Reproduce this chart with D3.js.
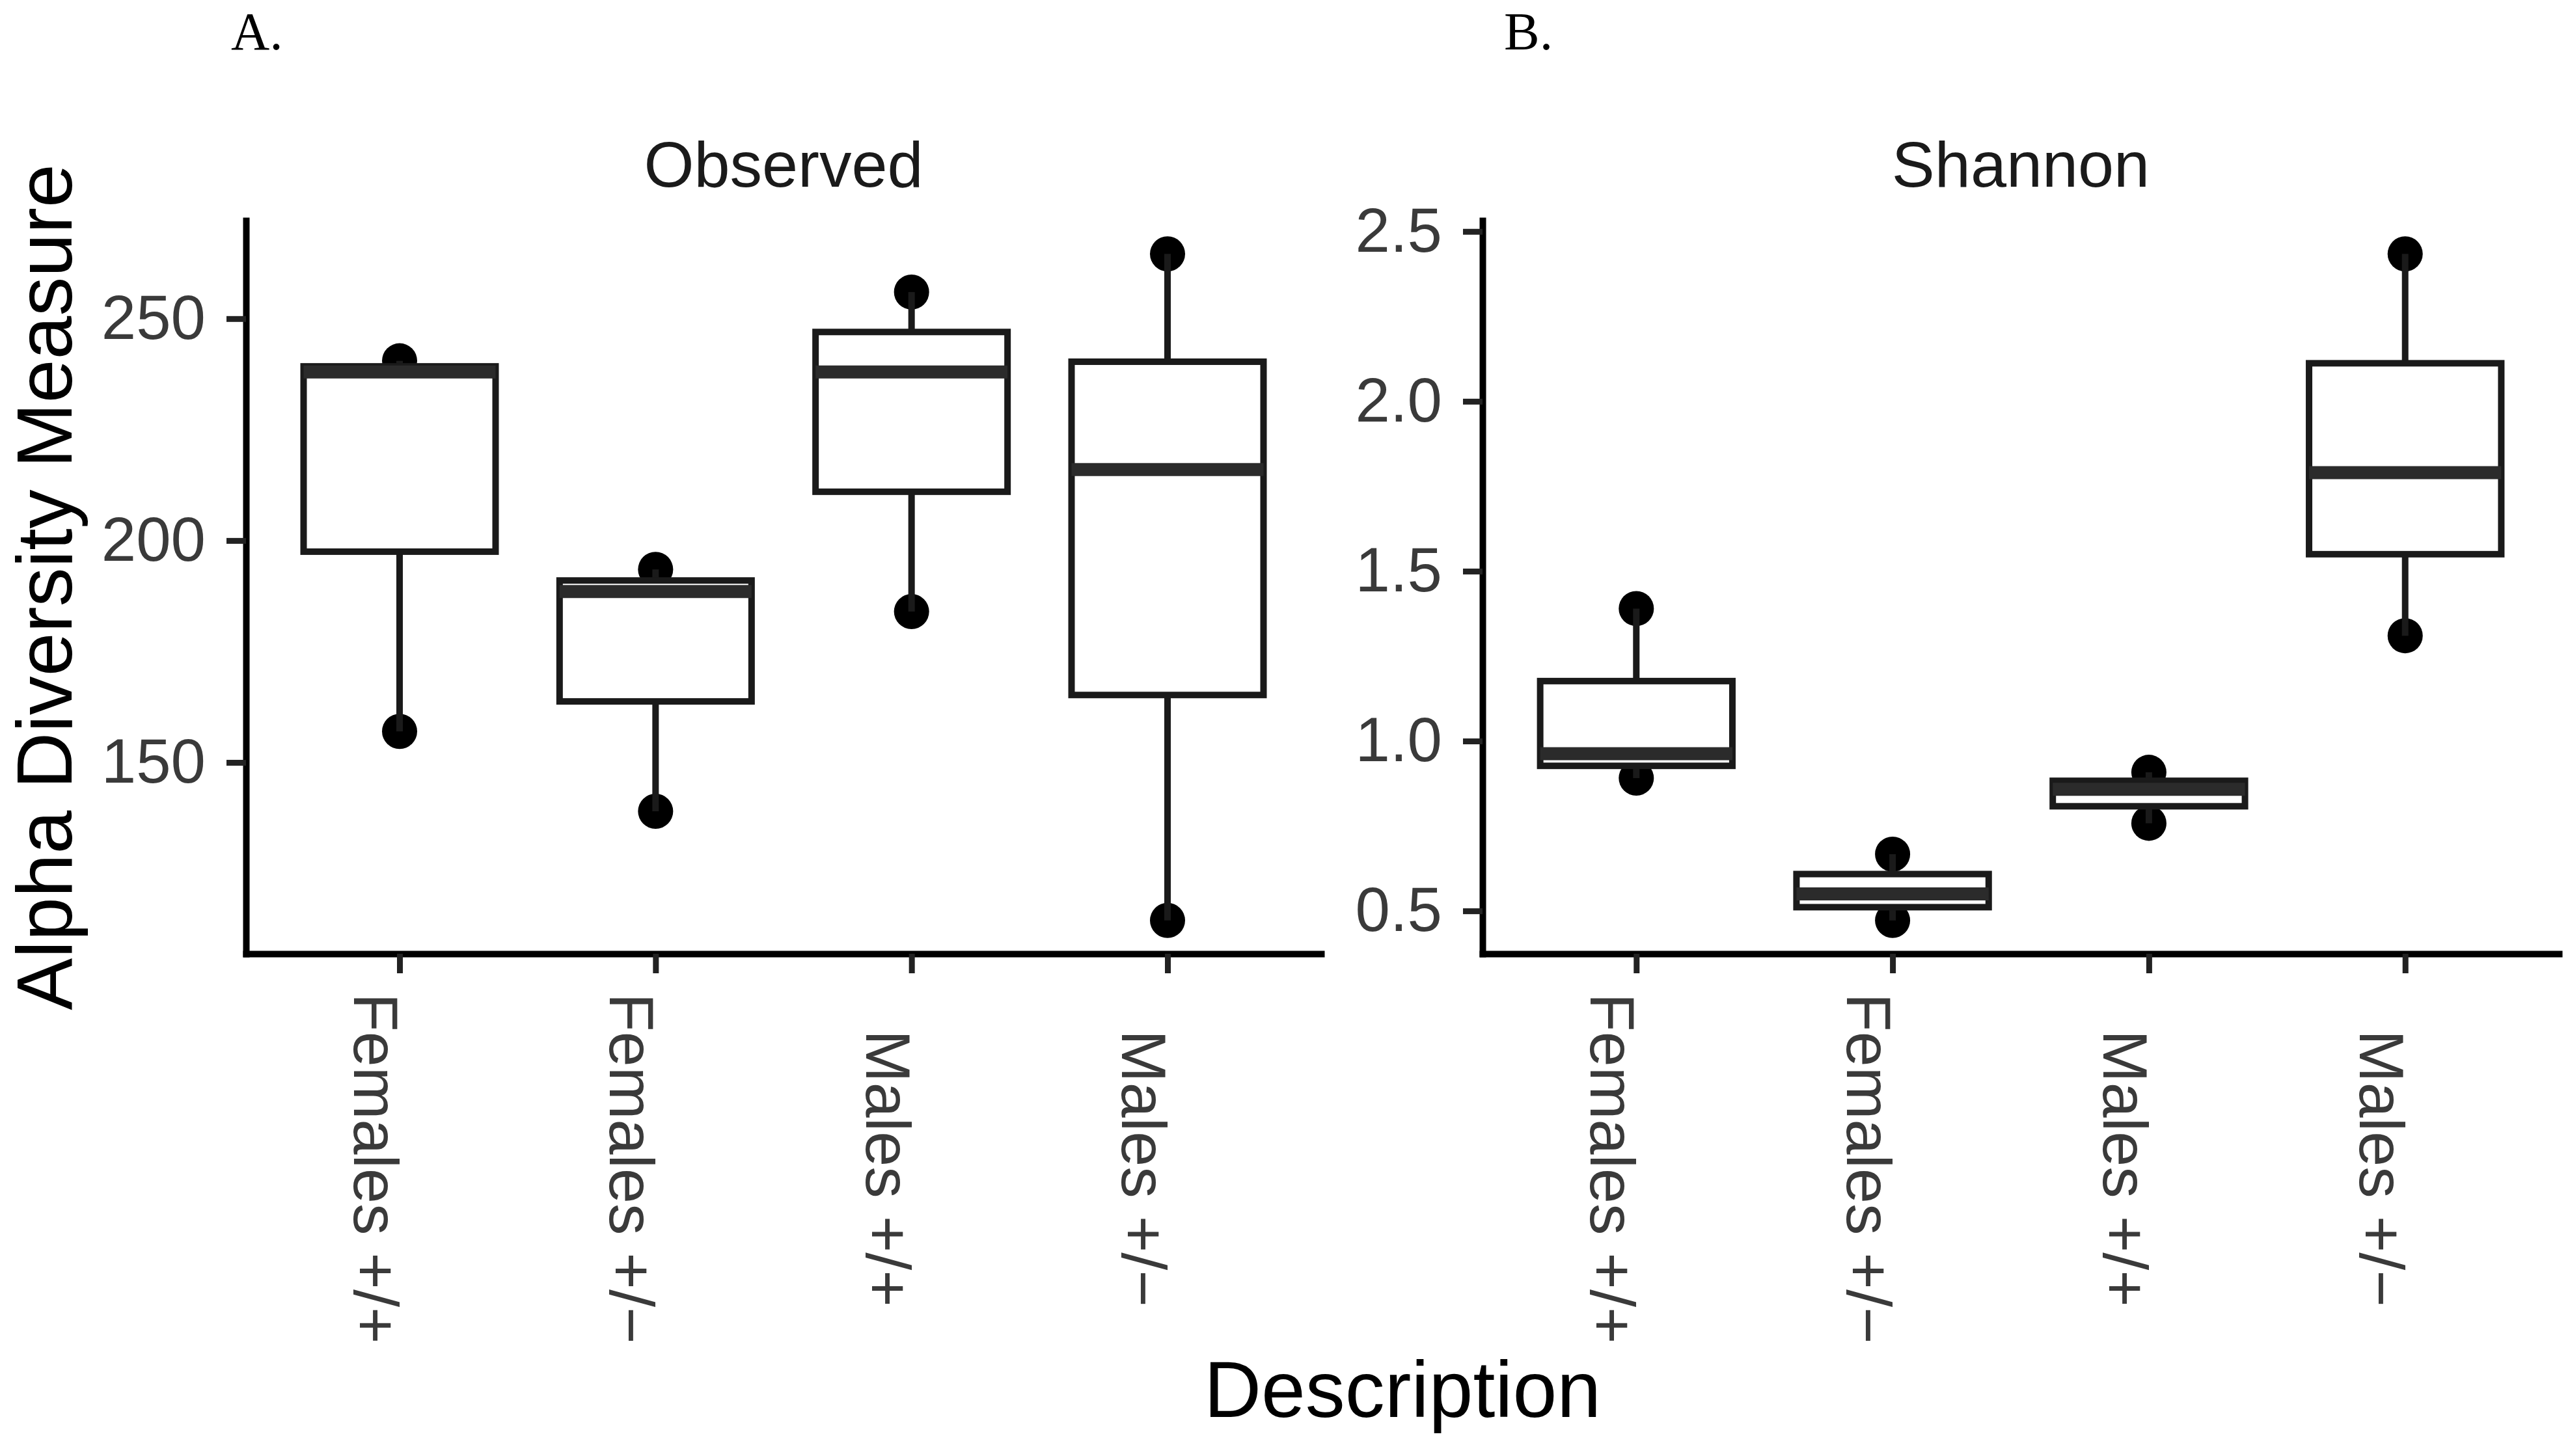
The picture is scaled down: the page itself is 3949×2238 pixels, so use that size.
<!DOCTYPE html>
<html><head><meta charset="utf-8">
<script src="https://cdn.jsdelivr.net/npm/d3@7"></script>
<style>html,body{margin:0;padding:0;background:#fff;} svg{display:block;}</style>
</head><body>
<script>
// ---- data ----
const categories = ["Females +/+", "Females +/\u2212", "Males +/+", "Males +/\u2212"];
const observedValues = [[157, 238, 240.5], [139, 188.5, 193.5], [184, 238, 256], [114.4, 216, 264.6]];
const shannonValues = [[0.891, 0.963, 1.39], [0.472, 0.55, 0.667], [0.758, 0.858, 0.908], [1.31, 1.79, 2.434]];
const observedTicks = [150, 200, 250];
const shannonTicks = [0.5, 1.0, 1.5, 2.0, 2.5];
const panelTitles = ["Observed", "Shannon"];
const panelLetters = ["A.", "B."];
const yTitle = "Alpha Diversity Measure";
const xTitle = "Description";

// ---- layout ----
const W = 3949, H = 2238;
const font = "'Liberation Sans', Arial, Helvetica, sans-serif";
const serif = "'Liberation Serif', 'Times New Roman', serif";
const plotTop = 339, plotBottom = 1466;

const svg = d3.select("body").append("svg")
  .attr("width", W).attr("height", H).attr("viewBox", `0 0 ${W} ${H}`);
svg.append("rect").attr("width", W).attr("height", H).attr("fill", "#fff");

const panels = [
  {x0: 378, x1: 2030, values: observedValues, ticks: observedTicks, fmt: d3.format("d"),
   title: panelTitles[0], letter: panelLetters[0], letterX: 355},
  {x0: 2278, x1: 3932, values: shannonValues, ticks: shannonTicks, fmt: d3.format(".1f"),
   title: panelTitles[1], letter: panelLetters[1], letterX: 2311}
];

panels.forEach(p => {
  const all = p.values.flat();
  const [mn, mx] = d3.extent(all);
  const pad = (mx - mn) * 0.05;
  const y = d3.scaleLinear().domain([mn - pad, mx + pad]).range([plotBottom, plotTop]);
  const x = d3.scalePoint().domain(categories).range([p.x0, p.x1]).padding(0.6);
  const bw = x.step() * 0.75;
  const g = svg.append("g");

  const stats = categories.map((c, i) => {
    const v = p.values[i].slice().sort(d3.ascending);
    const q1 = d3.quantile(v, 0.25), med = d3.quantile(v, 0.5), q3 = d3.quantile(v, 0.75);
    const iqr = q3 - q1;
    const lo = d3.min(v.filter(d => d >= q1 - 1.5 * iqr));
    const hi = d3.max(v.filter(d => d <= q3 + 1.5 * iqr));
    return {c, v, q1, med, q3, lo, hi};
  });

  // points (drawn under boxes)
  stats.forEach(s => {
    g.selectAll(null).data(s.v).enter().append("circle")
      .attr("cx", x(s.c)).attr("cy", d => y(d)).attr("r", 27).attr("fill", "#000");
  });

  // whiskers
  stats.forEach(s => {
    g.append("line").attr("x1", x(s.c)).attr("x2", x(s.c)).attr("y1", y(s.q3)).attr("y2", y(s.hi))
      .attr("stroke", "#1a1a1a").attr("stroke-width", 10);
    g.append("line").attr("x1", x(s.c)).attr("x2", x(s.c)).attr("y1", y(s.q1)).attr("y2", y(s.lo))
      .attr("stroke", "#1a1a1a").attr("stroke-width", 10);
  });
  // boxes
  stats.forEach(s => {
    g.append("rect").attr("x", x(s.c) - bw / 2).attr("width", bw)
      .attr("y", y(s.q3)).attr("height", y(s.q1) - y(s.q3))
      .attr("fill", "#fff").attr("stroke", "#1a1a1a").attr("stroke-width", 10);
    g.append("line").attr("x1", x(s.c) - bw / 2).attr("x2", x(s.c) + bw / 2)
      .attr("y1", y(s.med)).attr("y2", y(s.med))
      .attr("stroke", "#2b2b2b").attr("stroke-width", 20);
  });

  // y axis
  const ya = g.append("g").attr("transform", `translate(${p.x0},0)`)
    .call(d3.axisLeft(y).tickValues(p.ticks).tickFormat(p.fmt).tickSize(30).tickSizeOuter(0).tickPadding(32));
  ya.select(".domain").attr("stroke", "#000").attr("stroke-width", 10).attr("stroke-linecap", "square");
  ya.selectAll(".tick line").attr("stroke", "#222").attr("stroke-width", 9);
  ya.selectAll(".tick text").attr("font-family", font).attr("font-size", 96).attr("fill", "#3a3a3a");

  // x axis
  const xa = g.append("g").attr("transform", `translate(0,${plotBottom})`)
    .call(d3.axisBottom(x).tickSize(30).tickSizeOuter(0).tickFormat(""));
  xa.select(".domain").attr("stroke", "#000").attr("stroke-width", 10).attr("stroke-linecap", "square");
  xa.selectAll(".tick line").attr("stroke", "#222").attr("stroke-width", 9);

  // rotated category labels
  g.selectAll(null).data(categories).enter().append("text")
    .attr("transform", d => `translate(${x(d) - 70},1796) rotate(90)`)
    .attr("text-anchor", "middle")
    .attr("font-family", font).attr("font-size", 97).attr("fill", "#3a3a3a")
    .text(d => d);

  // strip title
  g.append("text").attr("x", (p.x0 + p.x1) / 2).attr("y", 287).attr("text-anchor", "middle")
    .attr("font-family", font).attr("font-size", 99).attr("fill", "#1a1a1a").text(p.title);

  // panel letter
  g.append("text").attr("x", p.letterX).attr("y", 76)
    .attr("font-family", serif).attr("font-size", 82).attr("fill", "#000").text(p.letter);
});

// axis titles
svg.append("text").attr("transform", `translate(110,${(plotTop + plotBottom) / 2}) rotate(-90)`)
  .attr("text-anchor", "middle").attr("font-family", font).attr("font-size", 120).attr("fill", "#000")
  .text(yTitle);
svg.append("text").attr("x", (378 + 3932) / 2).attr("y", 2178).attr("text-anchor", "middle")
  .attr("font-family", font).attr("font-size", 122).attr("fill", "#000").text(xTitle);
</script>
</body></html>
